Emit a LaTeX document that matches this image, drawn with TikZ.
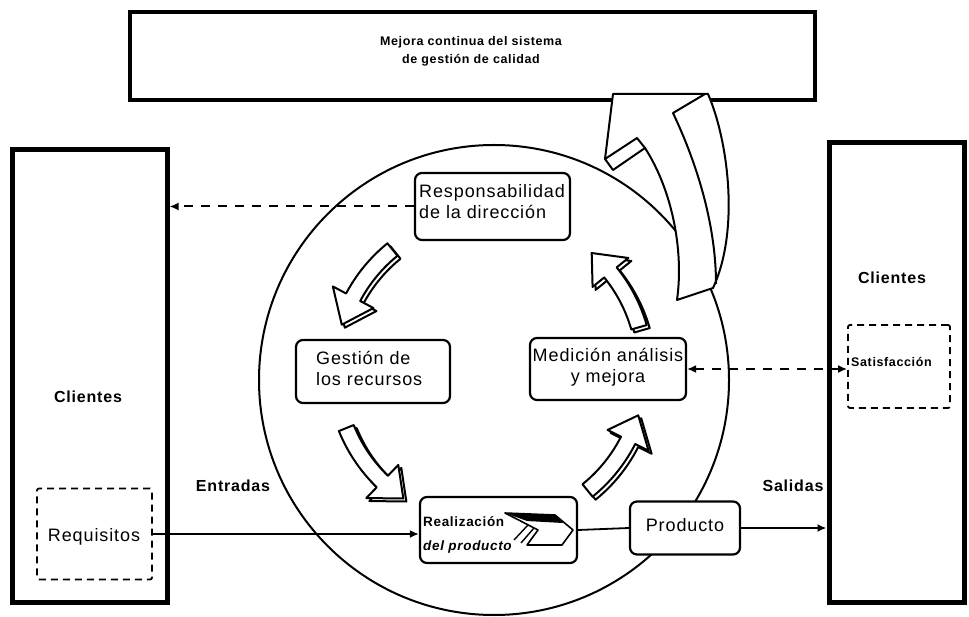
\documentclass[tikz,border=0pt]{standalone}
\usepackage{fontspec}
\setmainfont{Liberation Sans}[LetterSpace=5]
\usetikzlibrary{arrows.meta}
\newcommand\blockarr[3]{%
 \foreach \s in {3,0}{%
  \draw[barrow, shift={(\s,\s)}] plot[domain=#1:#2,samples=14] ({490+163*cos(\x)},{370+163*sin(\x)})
   -- ({490+178*cos(#2)},{370+178*sin(#2)})
   -- ({490+155*cos(#3)},{370+155*sin(#3)})
   -- ({490+132*cos(#2)},{370+132*sin(#2)})
   -- plot[domain=#2:#1,samples=14] ({490+147*cos(\x)},{370+147*sin(\x)}) -- cycle;}}
\begin{document}
\begin{tikzpicture}[x=1pt,y=-1pt,
  cbox/.style={draw, line width=5pt, fill=white, inner sep=0pt},
  rbox/.style={draw, line width=2.2pt, rounded corners=7pt, fill=white, inner sep=0pt},
  dbox/.style={draw, line width=1.8pt, dash pattern=on 7pt off 5pt, rounded corners=2pt, inner sep=0pt},
  txt/.style={font=\fontsize{18}{21}\selectfont, inner sep=0pt},
  btxt/.style={font=\bfseries\fontsize{16}{19}\selectfont, inner sep=0pt},
  barrow/.style={draw, line width=2pt, fill=white, line join=round},
  conn/.style={line width=1.8pt},
  dconn/.style={line width=2pt, dash pattern=on 9pt off 8pt},
  tip/.style={-{Latex[length=9pt,width=8pt]}}
]
\useasboundingbox (0,0) rectangle (969,617);
% side boxes
\node[cbox, minimum width=155pt, minimum height=452pt] (lcl) at (89.5,376) {};
\node[cbox, minimum width=135pt, minimum height=459pt] (rcl) at (896.5,372.5) {};
\node[btxt] (lclt) at (88,397) {Clientes};
\node[btxt] (rclt) at (892,278) {Clientes};
\node[dbox, minimum width=115pt, minimum height=91pt] (req) at (94.5,534) {};
\node[txt] (reqt) at (94,537) {Requisitos};
\node[dbox, minimum width=102pt, minimum height=83pt] (satbox) at (899,366.5) {};
\node[inner sep=0pt, anchor=west, font=\bfseries\fontsize{12.5}{14}\selectfont] (sat) at (851,362) {Satisfacción};
% top box
\node[draw, line width=3.5pt, minimum width=685pt, minimum height=88pt, inner sep=0pt] (top) at (472.5,56) {};
\node[align=center, inner sep=0pt, font=\bfseries\fontsize{12.5}{18}\selectfont] (mejora) at (471,51) {Mejora continua del sistema\\de gestión de calidad};
% circle
\node[circle, draw, line width=2pt, minimum size=470pt, inner sep=0pt] (circ) at (494,380) {};
% big arrow
\draw[barrow] (677,300) .. controls (684,250) and (672,190) .. (645,148) -- (613,170) -- (605,159) -- (613,94) -- (708,94) .. controls (728,140) and (740,230) .. (713,288) -- cycle;
\draw[line width=2pt, line join=round] (605,159) -- (637,138) -- (645,148);
\draw[line width=2pt, line join=round] (705,94) -- (673,113) .. controls (700,170) and (716,230) .. (716,284);
% cycle arrows
\blockarr{231}{208}{197}
\blockarr{158}{134}{124}
\blockarr{51}{27}{17}
\blockarr{-16}{-39}{-49}
% process boxes
\node[rbox, minimum width=155pt, minimum height=67pt] (resp) at (492.5,206.5) {};
\node[txt, align=left, anchor=west] (respt) at (419,202) {Responsabilidad\\de la dirección};
\node[rbox, minimum width=154pt, minimum height=63pt] (gest) at (373,371.5) {};
\node[txt, align=left, anchor=west] (gestt) at (316,368) {Gestión de\\los recursos};
\node[rbox, minimum width=156pt, minimum height=62pt] (med) at (608,369) {};
\node[txt, align=center] (medt) at (608,367) {Medición análisis\\y mejora};
\node[rbox, minimum width=157pt, minimum height=66pt] (real) at (498.5,530) {};
\node[rbox, minimum width=110pt, minimum height=53pt] (prod) at (685,528) {};
\node[txt] (prodt) at (685,525) {Producto};
% chevron inside Realizacion
\draw[line width=1.6pt, fill=white, line join=round] (505,513) -- (555,515) -- (573,530) -- (562,545) -- (527,545) -- (538,530) -- cycle;
\fill (505,513) -- (555,515) -- (563,523) -- (527,521) -- cycle;
\draw[line width=1.4pt] (514,540) -- (528,525) (521,543) -- (534,528);
\node[inner sep=0pt, anchor=west, align=left, font=\fontsize{13.5}{24}\selectfont] (realt) at (423,535) {\textbf{Realización}\\\textbf{\itshape del producto}};
% connectors
\draw[dconn, tip] (resp.west) -- (resp.west -| lcl.east);
\draw[dconn, {Latex[length=9pt,width=8pt]}-{Latex[length=9pt,width=8pt]}] (med.east) -- (med.east -| satbox.west);
\draw[conn, tip] (req.east) -- (req.east -| real.west);
\draw[conn] (real.east) -- (prod.west);
\draw[conn, tip] (prod.east) -- (prod.east -| rcl.west);
\node[btxt] (entr) at (233,486) {Entradas};
\node[btxt] (sal) at (793,486) {Salidas};
\end{tikzpicture}
\end{document}
